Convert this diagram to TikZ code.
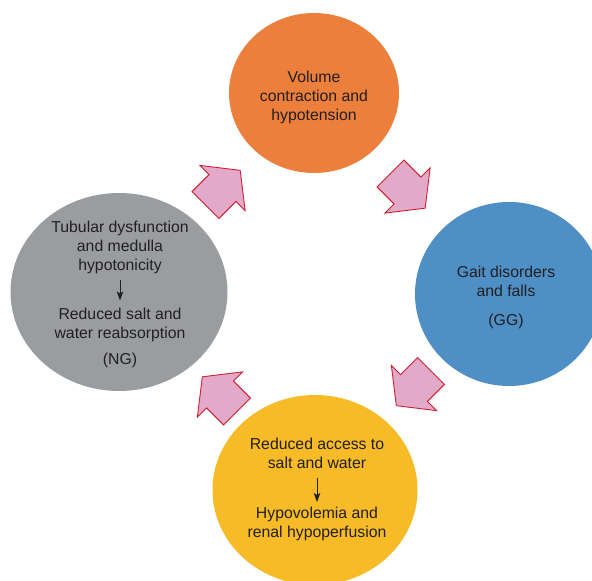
\documentclass[tikz,border=0pt]{standalone}
\usepackage{fontspec}
\setmainfont{Liberation Sans}
\usetikzlibrary{shapes.geometric,arrows.meta}

\definecolor{orangefill}{HTML}{EB7F3B}
\definecolor{bluefill}{HTML}{4E8FC6}
\definecolor{yellowfill}{HTML}{F6BB27}
\definecolor{grayfill}{HTML}{9A9DA0}
\definecolor{pinkfill}{HTML}{E2A9C8}
\definecolor{redline}{HTML}{CD2030}
\definecolor{ink}{HTML}{231F20}

\tikzset{
  bubble/.style={ellipse, inner sep=0pt, draw=none},
  labeltext/.style={text=ink, align=center, inner sep=0pt, anchor=north,
    font=\fontsize{15.8}{19}\selectfont},
  flowarrow/.style={draw=ink, line width=0.8pt,
    -{Stealth[length=9pt,width=6.5pt,inset=2pt]}},
  blockarrow/.pic={
    \draw[draw=redline, fill=pinkfill, line width=0.9pt, line join=miter]
      (25,0) -- (0,32) -- (0,19) -- (-24,19) -- (-24,-19) -- (0,-19) -- (0,-32) -- cycle;
  }
}

\begin{document}
\begin{tikzpicture}[x=1pt,y=-1pt]
\useasboundingbox (0,0) rectangle (592,581);

% the four stages of the cycle
\node[bubble, fill=orangefill, minimum width=170pt, minimum height=160pt] (vol) at (314,93) {};
\node[bubble, fill=bluefill, minimum width=188pt, minimum height=184pt] (gait) at (509,294) {};
\node[bubble, fill=yellowfill, minimum width=205pt, minimum height=190pt] (access) at (315,490) {};
\node[bubble, fill=grayfill, minimum width=217pt, minimum height=198pt] (tub) at (119,292) {};

% block arrows running clockwise round the cycle
\pic[rotate=45]   at (222.5,188) {blockarrow};
\pic[rotate=-45]  at (407.5,190.5) {blockarrow};
\pic[rotate=-135] at (414,388) {blockarrow};
\pic[rotate=135]  at (220,394.5) {blockarrow};

% texts
\node[labeltext] (voltext) at (314,70.5) {Volume\\contraction and\\hypotension};

\node[labeltext] (gaittext) at (506,265.5) {Gait disorders\\and falls};
\node[labeltext] (gg) at (506,313.5) {(GG)};

\node[labeltext] (acc1) at (317,437.5) {Reduced access to\\salt and water};
\node[labeltext] (acc2) at (317,506.5) {Hypovolemia and\\renal hypoperfusion};
\draw[flowarrow, shorten <=9pt, shorten >=4.5pt] (acc1.south) -- (acc2.north);

\node[labeltext] (tub1) at (120,220.5) {Tubular dysfunction\\and medulla\\hypotonicity};
\node[labeltext] (tub2) at (120,307.5) {Reduced salt and\\water reabsorption};
\node[labeltext] (ng) at (120,352.5) {(NG)};
\draw[flowarrow, shorten <=6.5pt, shorten >=7pt] (tub1.south) -- (tub2.north);
\end{tikzpicture}
\end{document}
